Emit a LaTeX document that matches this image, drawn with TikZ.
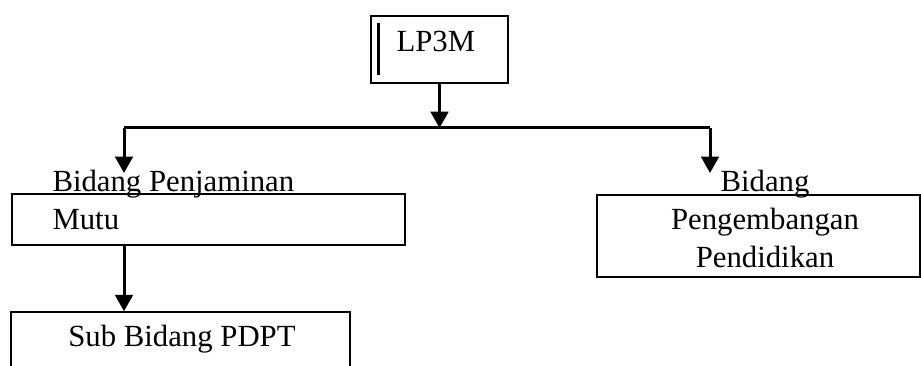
\documentclass[tikz,border=0pt]{standalone}
\usepackage{fontspec}
\setmainfont{Liberation Serif}
\usetikzlibrary{positioning}
\usetikzlibrary{arrows.meta}

\tikzset{
	unitbox/.style={draw,inner sep=0pt,line width=0.6pt},
	unittext/.style={inner sep=0pt,font=\fontsize{12.3}{15.2}\selectfont},
	conn/.style={line width=1.2pt},
	connarrow/.style={conn,-{Triangle[width=7pt,length=6.5pt]}}
}

\begin{document}
\begin{tikzpicture}[x=0.4pt,y=-0.4pt]
	\useasboundingbox (0,0) rectangle (921,366);

	% boxes
	\node[unitbox,minimum width=54.8pt,minimum height=26.8pt] (lp3m) at (439.5,49.5) {};
	\node[unitbox,minimum width=157.2pt,minimum height=20.4pt] (mutu) at (208.5,219.5) {};
	\node[unitbox,minimum width=129.2pt,minimum height=32.8pt] (pendidikan) at (758.5,236) {};
	\node[unitbox,minimum width=135.6pt,minimum height=35.2pt] (pdpt) at (180.5,356) {};
	\draw[line width=1.2pt] (378,23) -- (378,75);

	% labels (base = last line)
	\node[unittext,anchor=base west] (lp3mtext) at (396,52) {LP3M};
	\node[unittext,anchor=base west,align=left] (mututext) at (52,230) {Bidang Penjaminan\\Mutu};
	\node[unittext,anchor=base,align=center] (pendidikantext) at (765,267) {Bidang\\Pengembangan\\Pendidikan};
	\node[unittext,anchor=base] (pdpttext) at (182,347) {Sub Bidang PDPT};

	% connectors
	\coordinate (busL) at (124,128);
	\coordinate (busR) at (710,128);
	\coordinate (tipL) at (124,173);
	\coordinate (tipR) at (710,173);
	\draw[connarrow] (lp3m.south) -- (lp3m.south |- busL);
	\draw[conn] (busL) -- (busR);
	\foreach \i in {L,R} \draw[connarrow] (bus\i) -- (tip\i);
	\draw[connarrow] (mutu.south -| tipL) -- (pdpt.north -| tipL);
\end{tikzpicture}
\end{document}
